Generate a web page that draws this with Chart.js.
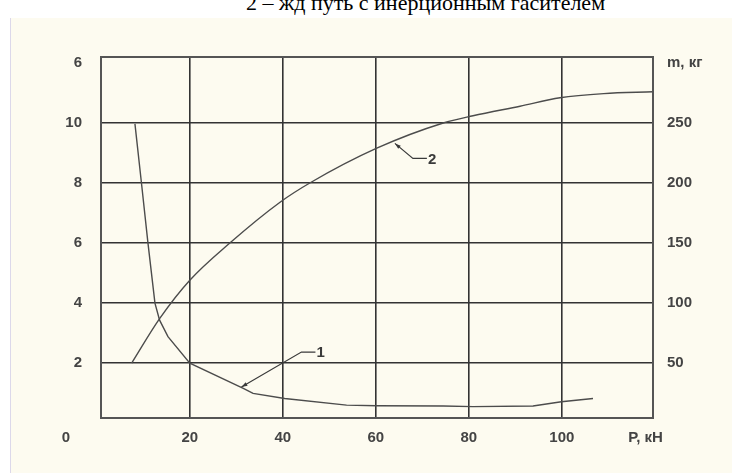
<!DOCTYPE html>
<html lang="ru">
<head>
<meta charset="UTF-8">
<title>m, кг — P, кН</title>
<script src="https://cdn.jsdelivr.net/npm/chart.js@4.4.1/dist/chart.umd.min.js"></script>
</head>
<body style="margin:0; width:732px; height:473px; background:#fff; position:relative; overflow:hidden;">

<div style="position:absolute; left:246px; top:-8px; white-space:nowrap; font:22px 'Liberation Serif', 'Times New Roman', serif; line-height:22px; color:#000;">2 – жд путь с инерционным гасителем</div>
<div style="position:absolute; left:10px; top:18px; right:0; bottom:0; background:#fdfbf0; border-left:1px solid #dcd8ea;"></div>
<canvas id="chart" width="732" height="473" style="position:absolute; left:0; top:0;"></canvas>

<script>
// кривая 1 (левая шкала)
const p1 = [8.2, 9.6, 11.0, 12.5, 13.5, 15.3, 20.0, 31.5, 33.6, 40.4, 53.7, 60.2, 74.5, 80.9, 93.8, 99.9, 106.7];
const curve1 = [9.97, 8.0, 6.0, 4.0, 3.43, 2.88, 2.0, 1.16, 0.99, 0.82, 0.6, 0.58, 0.57, 0.55, 0.57, 0.71, 0.82];

// кривая 2, m, кг (правая шкала)
const p2 = [7.5, 13.5, 20, 28.6, 39.4, 45.8, 60.2, 74.5, 80.9, 91, 99.6, 109, 119.6];
const curve2 = [50, 87, 119, 150, 184, 200, 229, 250, 256, 264, 271, 274.5, 276];

// шкалы
const xTicks = [20, 40, 60, 80, 100, 118];
const xLabels = ['20', '40', '60', '80', '100', 'P, кН'];
const leftTicks = [2, 4, 6, 8, 10, 12];
const leftLabels = ['2', '4', '6', '8', '10', '6'];
const rightTicks = [50, 100, 150, 200, 250, 300];
const rightLabels = ['50', '100', '150', '200', '250', 'm, кг'];

// выноски: номер кривой, точка на кривой
const noteText = ['1', '2'];
const noteP = [31.1, 64.1];
const noteVal = [1.2, 233];
const noteAxis = ['y', 'y2'];

const gridColor = '#333';
const lineColor = '#4c4c4c';
const labelFont = { family: "'Liberation Sans', Arial, sans-serif", size: 15, weight: 'bold' };

function toPoints(xs, ys) {
    return xs.map((x, i) => ({ x: x, y: ys[i] }));
}

const extras = {
    id: 'extras',
    afterDatasetsDraw(chart) {
        const ctx = chart.ctx;
        const a = chart.chartArea;
        const xs = chart.scales.x;

        // рамка
        ctx.save();
        ctx.strokeStyle = '#555';
        ctx.lineWidth = 2;
        ctx.strokeRect(a.left, a.top, a.right - a.left, a.bottom - a.top);

        // "0" под левой шкалой
        ctx.fillStyle = '#444';
        ctx.font = "bold 15px 'Liberation Sans', Arial, sans-serif";
        ctx.textAlign = 'right';
        ctx.textBaseline = 'middle';
        ctx.fillText('0', chart.scales.y.right - 31, a.bottom + 20);

        // выноски
        const offs = [[60, -35], [18, 15]];
        ctx.strokeStyle = '#3a3a3a';
        ctx.fillStyle = '#3a3a3a';
        ctx.lineWidth = 1.2;
        noteText.forEach((t, i) => {
            const tx = xs.getPixelForValue(noteP[i]);
            const ty = chart.scales[noteAxis[i]].getPixelForValue(noteVal[i]);
            const bx = tx + offs[i][0], by = ty + offs[i][1];
            const ex = bx + 14;
            ctx.beginPath();
            ctx.moveTo(tx, ty);
            ctx.lineTo(bx, by);
            ctx.lineTo(ex, by);
            ctx.stroke();
            // стрелка
            const ang = Math.atan2(ty - by, tx - bx);
            ctx.beginPath();
            ctx.moveTo(tx, ty);
            ctx.lineTo(tx - 6 * Math.cos(ang) + 2 * Math.sin(ang), ty - 6 * Math.sin(ang) - 2 * Math.cos(ang));
            ctx.lineTo(tx - 6 * Math.cos(ang) - 2 * Math.sin(ang), ty - 6 * Math.sin(ang) + 2 * Math.cos(ang));
            ctx.closePath();
            ctx.fill();
            ctx.font = "bold 15px 'Liberation Sans', Arial, sans-serif";
            ctx.textAlign = 'left';
            ctx.fillText(t, ex + 1, by + 1);
        });
        ctx.restore();
    }
};

new Chart(document.getElementById('chart'), {
    type: 'scatter',
    data: {
        datasets: [{
            data: toPoints(p1, curve1),
            yAxisID: 'y',
            showLine: true,
            borderColor: lineColor,
            borderWidth: 1.4,
            pointRadius: 0,
            tension: 0
        }, {
            data: toPoints(p2, curve2),
            yAxisID: 'y2',
            showLine: true,
            borderColor: lineColor,
            borderWidth: 1.4,
            pointRadius: 0,
            cubicInterpolationMode: 'monotone'
        }]
    },
    options: {
        responsive: false,
        animation: false,
        layout: { padding: { top: 57, left: 0, right: 0, bottom: 0 } },
        plugins: { legend: { display: false }, tooltip: { enabled: false } },
        scales: {
            x: {
                type: 'linear',
                min: 0.9,
                max: 119.6,
                afterBuildTicks: s => { s.ticks = xTicks.map(v => ({ value: v })); },
                afterFit: s => { s.height = 55; },
                ticks: {
                    autoSkip: false,
                    maxRotation: 0,
                    padding: 11,
                    color: '#444',
                    font: labelFont,
                    callback: (v, i) => xLabels[i]
                },
                grid: {
                    drawTicks: false,
                    lineWidth: 1.6,
                    color: c => (c.tick && c.tick.value === 118) ? 'rgba(0,0,0,0)' : gridColor
                },
                border: { display: false }
            },
            y: {
                position: 'left',
                min: 0.17,
                max: 12.2,
                afterBuildTicks: s => { s.ticks = leftTicks.map(v => ({ value: v })); },
                afterFit: s => { s.width = 101; },
                ticks: {
                    autoSkip: false,
                    padding: 19,
                    color: '#444',
                    font: labelFont,
                    callback: (v, i) => leftLabels[i]
                },
                grid: {
                    drawTicks: false,
                    lineWidth: 1.6,
                    color: c => (c.tick && c.tick.value === 12) ? 'rgba(0,0,0,0)' : gridColor
                },
                border: { display: false }
            },
            y2: {
                position: 'right',
                min: 4.2,
                max: 305,
                afterBuildTicks: s => { s.ticks = rightTicks.map(v => ({ value: v })); },
                afterFit: s => { s.width = 79; },
                ticks: {
                    autoSkip: false,
                    padding: 14,
                    color: '#444',
                    font: labelFont,
                    callback: (v, i) => rightLabels[i]
                },
                grid: { display: false, drawTicks: false },
                border: { display: false }
            }
        }
    },
    plugins: [extras]
});
</script>
</body>
</html>
